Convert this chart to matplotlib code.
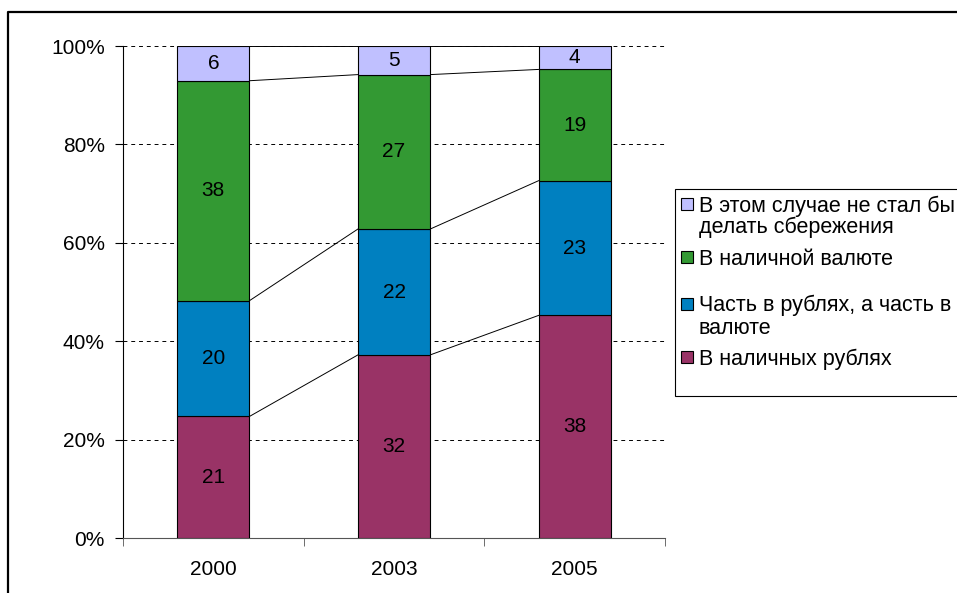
import matplotlib.pyplot as plt
import numpy as np
from matplotlib.patches import Rectangle
from matplotlib.lines import Line2D

plt.rcParams['font.family'] = ['Liberation Sans', 'DejaVu Sans']

years = ["2000", "2003", "2005"]
rub_cash = np.array([21, 32, 38])
mixed = np.array([20, 22, 23])
fx_cash = np.array([38, 27, 19])
no_saving = np.array([6, 5, 4])

series = [rub_cash, mixed, fx_cash, no_saving]
names = [["В наличных рублях"],
         ["Часть в рублях, а часть в", "валюте"],
         ["В наличной валюте"],
         ["В этом случае не стал бы", "делать сбережения"]]
colors = ["#993366", "#0080C0", "#339933", "#C0C0FF"]

totals = sum(series)
shares = [s / totals * 100 for s in series]

W, H = 957, 593
FS = 15
fig = plt.figure(figsize=(W / 100, H / 100), dpi=100)
ax = fig.add_axes([123 / W, 1 - 538 / H, (665 - 123) / W, (538 - 46) / H])

x = np.arange(len(years))
bw = 0.4
bottom = np.zeros(len(years))
for s, vals, c in zip(shares, series, colors):
    ax.bar(x, s, bw, bottom=bottom, color=c, edgecolor="black", linewidth=0.8, zorder=3)
    for xi, b, h, v in zip(x, bottom, s, vals):
        ax.text(xi, b + h / 2, str(v), ha="center", va="center", fontsize=FS, zorder=4)
    bottom = bottom + s
    # series lines between neighbouring bars
    for i in range(len(years) - 1):
        ax.plot([x[i] + bw / 2, x[i + 1] - bw / 2], [bottom[i], bottom[i + 1]],
                color="black", linewidth=0.7, zorder=3)

ax.set_xlim(-0.5, 2.5)
ax.set_ylim(0, 100)
ax.set_yticks(np.arange(0, 101, 20))
ax.set_yticklabels([f"{v}%" for v in range(0, 101, 20)], fontsize=FS)
for v in range(20, 101, 20):
    ax.axhline(v, color="black", linestyle=(0, (4, 4)), linewidth=0.7, zorder=1)

ax.set_xticks(x)
ax.set_xticklabels(years, fontsize=FS)
ax.set_xticks([-0.5, 0.5, 1.5, 2.5], minor=True)
ax.tick_params(axis="x", which="major", length=0, pad=16)
ax.tick_params(axis="x", which="minor", length=6, color="#555555")
ax.tick_params(axis="y", length=6, pad=7)
for side in ["top", "right"]:
    ax.spines[side].set_visible(False)
ax.spines["bottom"].set_color("#555555")

# legend box
fig.add_artist(Rectangle((675 / W, 1 - 396 / H), (W - 675) / W + 0.01, (396 - 189) / H,
                         transform=fig.transFigure, facecolor="white",
                         edgecolor="black", linewidth=0.8))
entries = [(3, 204, [211.5, 233]), (2, 257, [264.5]),
           (1, 304, [311.5, 334]), (0, 357, [364.5])]
for k, yc, baselines in entries:
    fig.add_artist(Rectangle((681 / W, 1 - (yc + 6) / H), 12 / W, 12 / H,
                             transform=fig.transFigure, facecolor=colors[k],
                             edgecolor="black", linewidth=0.8))
    for line, yb in zip(names[k], baselines):
        fig.text(699 / W, 1 - yb / H, line, fontsize=15.5, va="baseline", ha="left")

# outer frame
fig.add_artist(Line2D([8 / W, 8 / W, 1.0], [0, 1 - 12 / H, 1 - 12 / H],
                      transform=fig.transFigure, color="black", linewidth=1.6))

fig.savefig("out.png", dpi=100)
